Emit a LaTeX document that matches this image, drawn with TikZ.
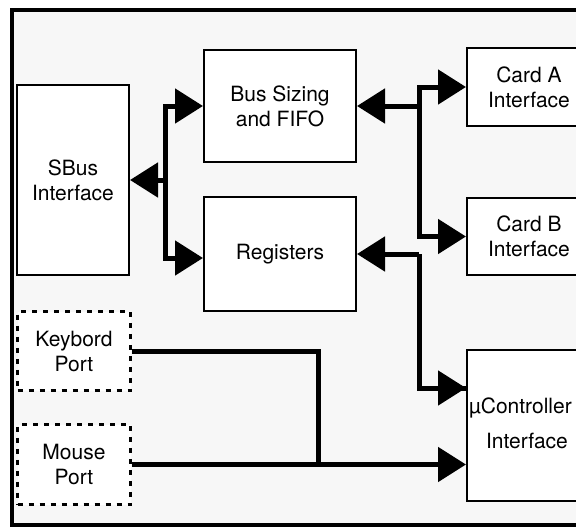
\documentclass[tikz,border=0pt]{standalone}
\usepackage{fontspec}
\setmainfont{TeX Gyre Heros}
\usetikzlibrary{arrows.meta}
\tikzset{
  blk/.style={draw, line width=2pt, fill=white, inner sep=0pt, align=center,
    anchor=north west, font=\fontsize{21}{25}\selectfont},
  port/.style={blk, dash pattern=on 5pt off 6pt, line width=3pt},
  txt/.style={inner sep=0pt, font=\fontsize{21}{25}\selectfont},
  wire/.style={line width=5pt, line join=miter},
  arr/.style={wire, -{Triangle[length=28pt, width=34pt]}},
}
\begin{document}
\begin{tikzpicture}[x=1pt, y=-1pt]
  \useasboundingbox (0,0) rectangle (576,528);
  \clip (0,0) rectangle (576,528);
  % outer board frame
  \draw[line width=4pt, fill=black!3] (12,10) rectangle (620,525);

  % blocks
  \node[blk, minimum width=112pt, minimum height=190pt] (sbus) at (16,84) {SBus\\Interface};
  \node[blk, minimum width=152pt, minimum height=112pt] (bus) at (203,49) {Bus Sizing\\and FIFO};
  \node[blk, minimum width=152pt, minimum height=114pt] (reg) at (203,196) {Registers};
  \node[blk, minimum width=124pt, minimum height=78pt] (carda) at (466,47) {Card A\\Interface};
  \node[blk, minimum width=124pt, minimum height=77pt] (cardb) at (466,197) {Card B\\Interface};
  \node[blk, minimum width=124pt, minimum height=151pt] (uc) at (466,349) {};
  \node[txt, anchor=west] (ucname) at (469,408) {µController};
  \node[txt] (ucif) at (527,441) {Interface};
  \node[port, minimum width=113pt, minimum height=79pt] (kb) at (16,310) {Keybord\\Port};
  \node[port, minimum width=113pt, minimum height=80pt] (mouse) at (16,423) {Mouse\\Port};

  % bus splitters
  \coordinate (lx) at (165,0);
  \coordinate (rx) at (419,0);
  \coordinate (kx) at (318,0);
  \coordinate (regin) at ([yshift=-4pt]reg.west);

  % SBus side
  \draw[arr] (lx |- sbus.east) |- (bus.west);
  \draw[arr] (lx |- sbus.east) |- (regin);
  \draw[arr] (lx |- sbus.east) -- (sbus.east);

  % card side
  \draw[arr] (rx |- bus.east) |- (carda.west);
  \draw[arr] (rx |- bus.east) |- (cardb.west);
  \draw[arr] (rx |- bus.east) -- (bus.east);

  % registers to microcontroller
  \coordinate (ucin) at (uc.west |- 0,388);
  \draw[wire] (rx |- reg.east) |- (ucin);
  \draw[arr] (ucin -| rx) -- (ucin);
  \draw[arr] (rx |- reg.east) -- (reg.east);

  % ports to microcontroller
  \coordinate (ucport) at (uc.west |- mouse.east);
  \draw[wire] (kb.east) -| (kx |- mouse.east);
  \draw[arr] (mouse.east) -- (ucport);
\end{tikzpicture}
\end{document}
